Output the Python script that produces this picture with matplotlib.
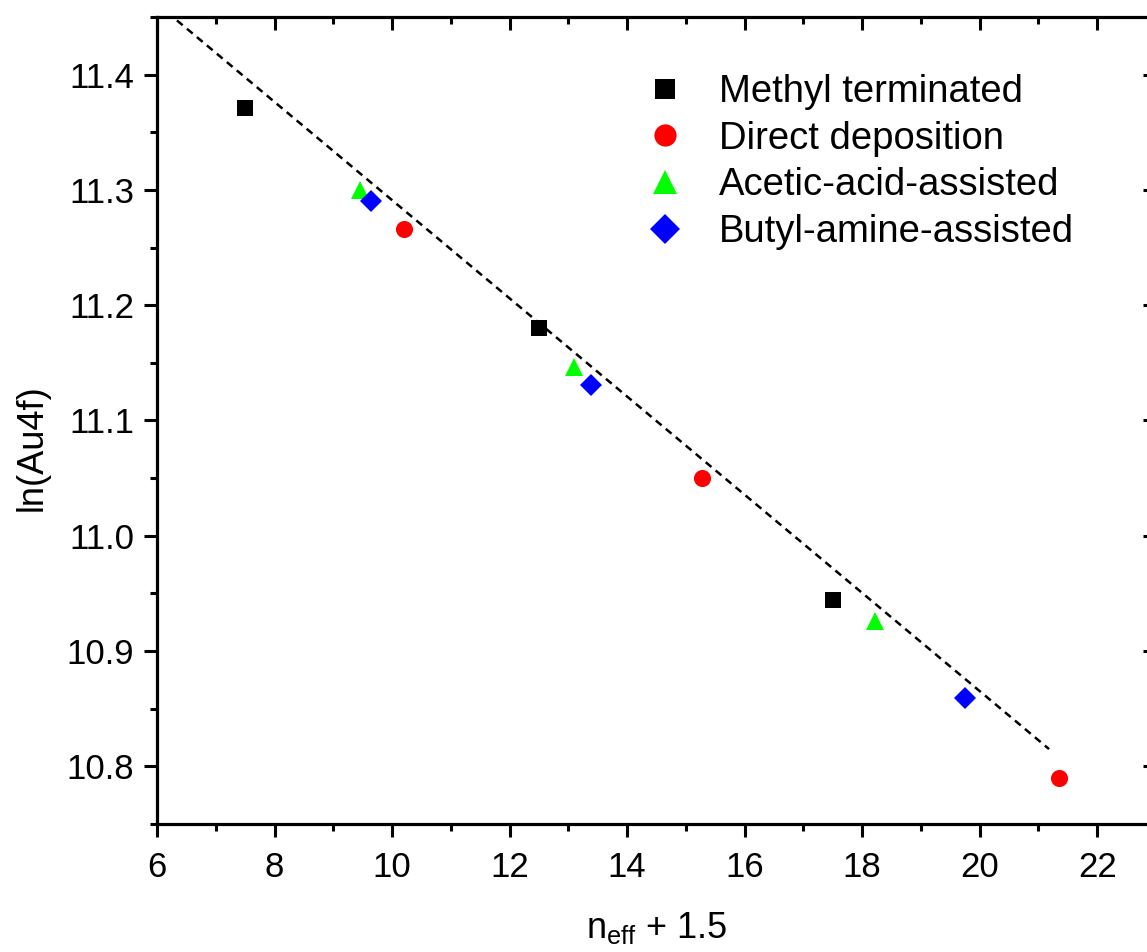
import matplotlib
matplotlib.use("Agg")
import matplotlib.pyplot as plt
from matplotlib.ticker import MultipleLocator

plt.rcParams['font.family'] = ['Liberation Sans', 'DejaVu Sans']

# Data
methyl_x = [7.50, 12.50, 17.50]
methyl_y = [11.371, 11.180, 10.944]
direct_x = [10.20, 15.27, 21.35]
direct_y = [11.266, 11.050, 10.790]
acetic_x = [9.45, 13.09, 18.22]
acetic_y = [11.300, 11.146, 10.926]
butyl_x = [9.65, 13.38, 19.75]
butyl_y = [11.290, 11.131, 10.859]
fit_x = [6.0, 21.18]
fit_y = [11.4615, 10.815]

labels = ["Methyl terminated", "Direct deposition",
          "Acetic-acid-assisted", "Butyl-amine-assisted"]

W, H = 1147, 952
fig = plt.figure(figsize=(W / 100, H / 100), dpi=100)
ax = fig.add_axes([157 / W, (H - 824) / H, (1156 - 157) / W, (824 - 17) / H])

ax.plot(fit_x, fit_y, color='black', lw=1.8, dashes=(3.0, 2.2), zorder=1)
ax.plot(methyl_x, methyl_y, 's', color='black', ms=11.3, mew=0, label=labels[0], zorder=3)
ax.plot(direct_x, direct_y, 'o', color='#FF0000', ms=12.3, mew=0, label=labels[1], zorder=3)
ax.plot(acetic_x, acetic_y, '^', color='#00FF00', ms=13.5, mew=0, label=labels[2], zorder=3)
ax.plot(butyl_x, butyl_y, 'D', color='#0000FF', ms=11.5, mew=0, label=labels[3], zorder=3)

ax.set_xlim(6, 23)
ax.set_ylim(10.75, 11.45)
ax.xaxis.set_major_locator(MultipleLocator(2))
ax.xaxis.set_minor_locator(MultipleLocator(1))
ax.yaxis.set_major_locator(MultipleLocator(0.1))
ax.yaxis.set_minor_locator(MultipleLocator(0.05))
ax.yaxis.set_major_formatter(matplotlib.ticker.FormatStrFormatter('%.1f'))

for s in ax.spines.values():
    s.set_linewidth(2.3)

ax.tick_params(axis='both', which='major', labelsize=25, width=2.2, length=9.5)
ax.tick_params(axis='both', which='minor', width=2.2, length=5)
ax.tick_params(axis='x', which='major', pad=10)
ax.tick_params(axis='y', which='major', pad=7)
ax.tick_params(axis='both', which='both', bottom=True, left=True, top=True, right=True,
               labeltop=False, labelright=False)
# top/right ticks point inward, bottom/left outward
for t in ax.xaxis.get_major_ticks() + ax.xaxis.get_minor_ticks():
    t.tick2line.set_marker(matplotlib.lines.TICKDOWN)
for t in ax.yaxis.get_major_ticks() + ax.yaxis.get_minor_ticks():
    t.tick2line.set_marker(matplotlib.lines.TICKLEFT)

ax.set_xlabel(r'n$_{\mathregular{eff}}$ + 1.5', fontsize=26)
ax.set_ylabel('ln(Au4f)', fontsize=26)
ax.xaxis.set_label_coords(0.5, -(910 - 824) / (824 - 17))
ax.yaxis.set_label_coords(-(157 - 50) / (1156 - 157), (824 - 448) / (824 - 17))

leg = ax.legend(loc='upper left', bbox_to_anchor=(646 / W, (H - 74) / H),
                bbox_transform=fig.transFigure, frameon=False, fontsize=27.5,
                handlelength=1.0, handletextpad=0.9, labelspacing=0.28,
                markerscale=1.3, borderpad=0, borderaxespad=0)

fig.savefig('out.png', dpi=100)
